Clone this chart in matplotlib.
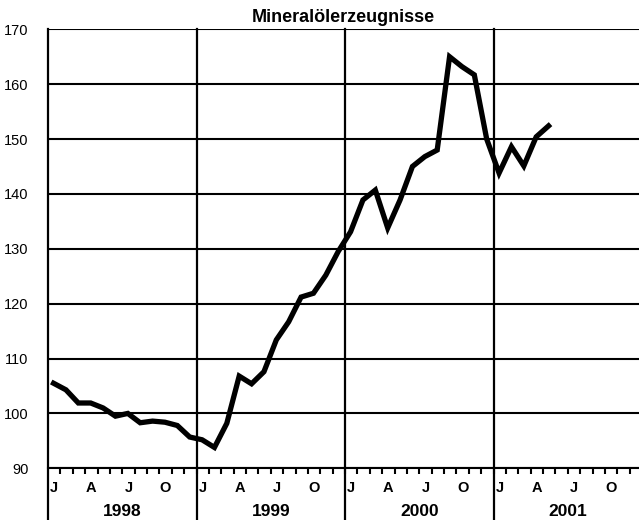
import matplotlib
matplotlib.use("Agg")
import matplotlib.pyplot as plt
import matplotlib.transforms as mtrans
from matplotlib.lines import Line2D

title = "Mineralölerzeugnisse"
years = ["1998", "1999", "2000", "2001"]
month_letters = ["J", "A", "J", "O"]
yticks = [90, 100, 110, 120, 130, 140, 150, 160, 170]

v1998 = [105.5, 104.3, 101.9, 101.9, 101.0, 99.5, 100.0, 98.3, 98.6, 98.4, 97.8, 95.7]
v1999 = [95.2, 93.8, 98.2, 106.8, 105.4, 107.6, 113.4, 116.7, 121.2, 121.9, 125.2, 129.5]
v2000 = [133.1, 138.9, 140.7, 133.8, 138.9, 145.0, 146.8, 148.0, 165.0, 163.2, 161.7, 150.0]
v2001 = [143.8, 148.6, 145.1, 150.4, 152.4]
values = v1998 + v1999 + v2000 + v2001

plt.rcParams['font.family'] = ['Liberation Sans', 'DejaVu Sans']

fig = plt.figure(figsize=(6.39, 5.20), dpi=100)
W, H = 639, 520
left, right, top, bottom = 48, 642, 29.3, 468.3
ax = fig.add_axes([left / W, 1 - bottom / H, (right - left) / W, (bottom - top) / H])

n_months = 12 * len(years)
ax.set_xlim(0, n_months)
ax.set_ylim(90, 170)

xs = [i + 0.45 for i in range(len(values))]
ax.plot(xs, values, color='black', lw=3.8, solid_joinstyle='miter', zorder=5)

# horizontal grid
for y in yticks:
    ax.axhline(y, color='black', lw=1.5, zorder=2)

for s in ['top', 'right', 'left']:
    ax.spines[s].set_visible(False)
ax.spines['bottom'].set_linewidth(1.5)

# year separators extending to figure bottom
for k in range(len(years)):
    ln = Line2D([k * 12, k * 12], [170, 0], color='black', lw=1.6,
                transform=ax.transData, clip_on=False, zorder=3)
    ax.add_line(ln)
ax.set_ylim(90, 170)

ax.set_yticks(yticks)
ax.set_yticklabels([str(y) for y in yticks], fontsize=10.5)
ax.tick_params(axis='y', length=0, pad=14)

ax.set_xticks(range(1, n_months))
ax.set_xticklabels([])
ax.tick_params(axis='x', direction='out', length=4, width=1.5, color='black')

blend = mtrans.blended_transform_factory(ax.transData, fig.transFigure)
for k in range(len(years)):
    for j, letter in enumerate(month_letters):
        ax.text(k * 12 + j * 3 + 0.5, 1 - 488 / H, letter, transform=blend,
                ha='center', va='center', fontsize=10.5, fontweight='bold')
    ax.text(k * 12 + 6, 1 - 511 / H, years[k], transform=blend,
            ha='center', va='center', fontsize=12.5, fontweight='bold')

fig.text((48 + 639) / 2 / W, 1 - 17 / H, title, ha='center', va='center',
         fontsize=13, fontweight='bold')

fig.savefig("out.png", dpi=100)
